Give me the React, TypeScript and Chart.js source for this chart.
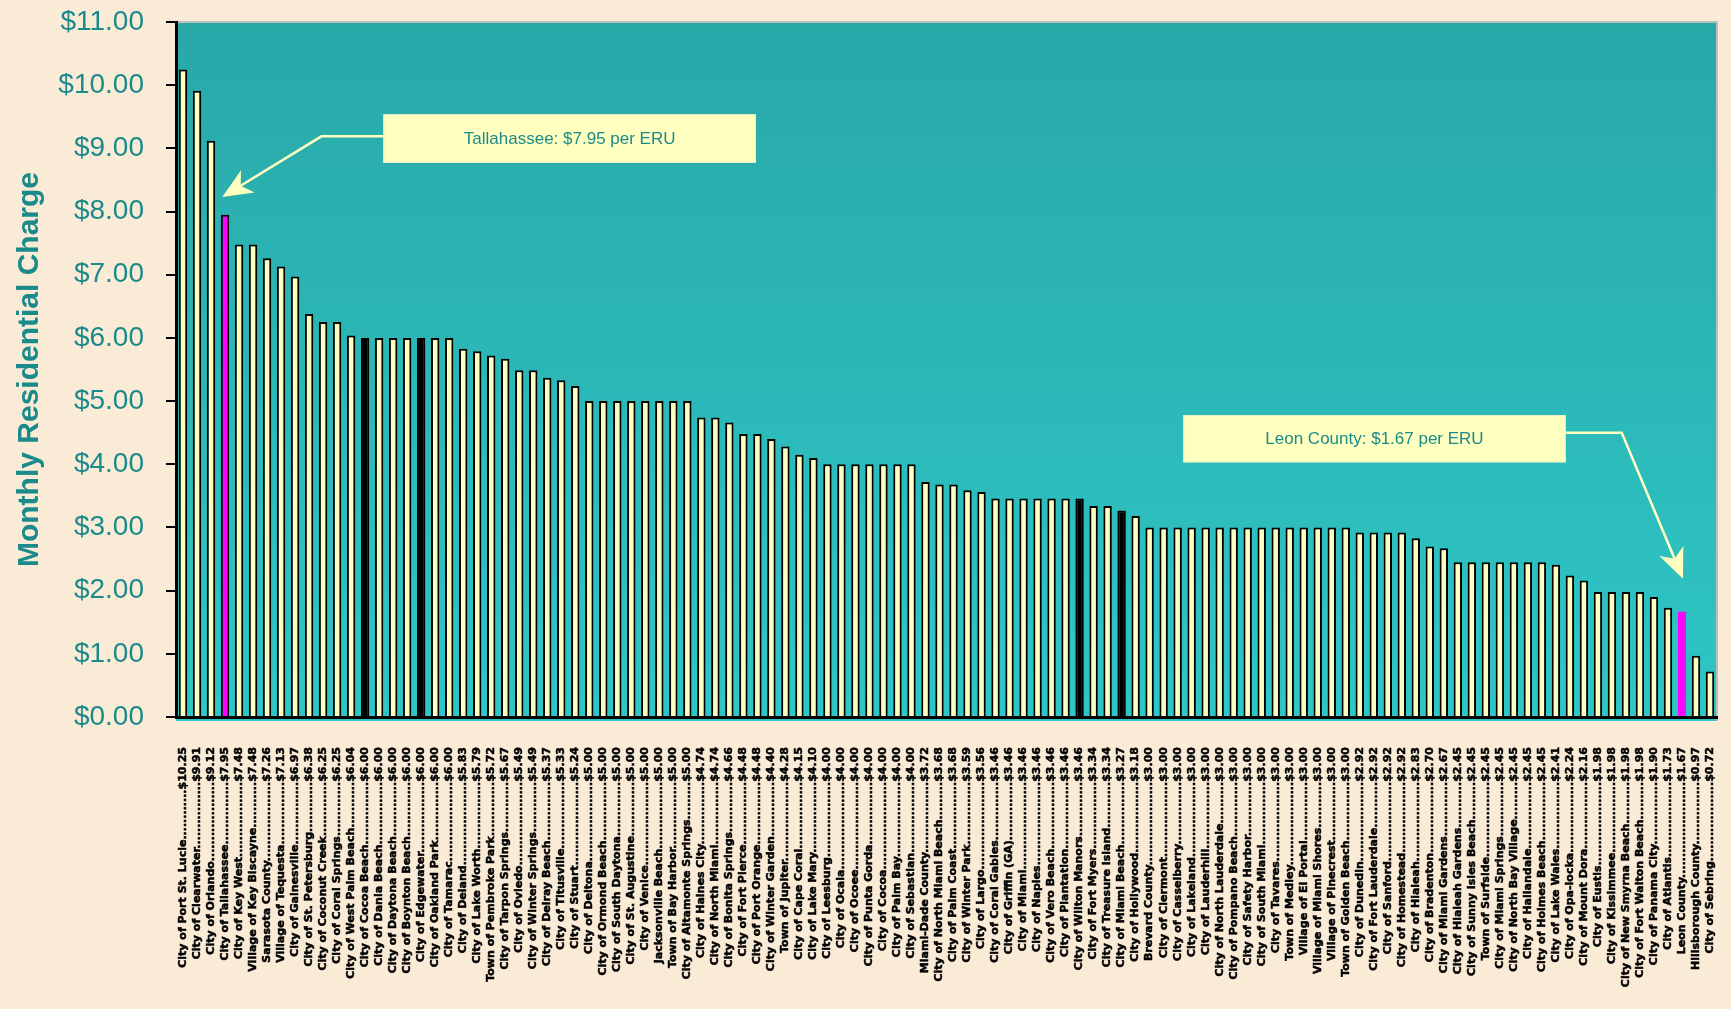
import React, { useEffect, useRef } from "react";
import { Chart, registerables } from "chart.js";

Chart.register(...registerables);

const cities: string[] = [
  "City of Port St. Lucie", "City of Clearwater", "City of Orlando", "City of Tallahassee",
  "City of Key West", "Village of Key Biscayne", "Sarasota County", "Village of Tequesta",
  "City of Gainesville", "City of St. Petersburg", "City of Coconut Creek", "City of Coral Springs",
  "City of West Palm Beach", "City of Cocoa Beach", "City of Dania Beach", "City of Daytona Beach",
  "City of Boynton Beach", "City of Edgewater", "City of Oakland Park", "City of Tamarac",
  "City of Deland", "City of Lake Worth", "Town of Pembroke Park", "City of Tarpon Springs",
  "City of Oviedo", "City of Winter Springs", "City of Delray Beach", "City of Titusville",
  "City of Stuart", "City of Deltona", "City of Ormond Beach", "City of South Daytona",
  "City of St. Augustine", "City of Venice", "Jacksonville Beach", "Town of Bay Harbor",
  "City of Altamonte Springs", "City of Haines City", "City of North Miami", "City of Bonita Springs",
  "City of Fort Pierce", "City of Port Orange", "City of Winter Garden", "Town of Jupiter",
  "City of Cape Coral", "City of Lake Mary", "City of Leesburg", "City of Ocala",
  "City of Ocoee", "City of Punta Gorda", "City of Cocoa", "City of Palm Bay",
  "City of Sebastian", "Miami-Dade County", "City of North Miami Beach", "City of Palm Coast",
  "City of Winter Park", "City of Largo", "City of Coral Gables", "City of Griffin (GA)",
  "City of Miami", "City of Naples", "City of Vero Beach", "City of Plantation",
  "City of Wilton Manors", "City of Fort Myers", "City of Treasure Island", "City of Miami Beach",
  "City of Hollywood", "Brevard County", "City of Clermont", "City of Casselberry",
  "City of Lakeland", "City of Lauderhill", "City of North Lauderdale", "City of Pompano Beach",
  "City of Safety Harbor", "City of South Miami", "City of Tavares", "Town of Medley",
  "Village of El Portal", "Village of Miami Shores", "Village of Pinecrest", "Town of Golden Beach",
  "City of Dunedin", "City of Fort Lauderdale", "City of Sanford", "City of Homestead",
  "City of Hialeah", "City of Bradenton", "City of Miami Gardens", "City of Hialeah Gardens",
  "City of Sunny Isles Beach", "Town of Surfside", "City of Miami Springs", "City of North Bay Village",
  "City of Hallandale", "City of Holmes Beach", "City of Lake Wales", "City of Opa-locka",
  "City of Mount Dora", "City of Eustis", "City of Kissimmee", "City of New Smyrna Beach",
  "City of Fort Walton Beach", "City of Panama City", "City of Atlantis", "Leon County",
  "Hillsborough County", "City of Sebring",
];

const charges: number[] = [
  10.25, 9.91, 9.12, 7.95, 7.48, 7.48, 7.26, 7.13, 6.97, 6.38,
  6.25, 6.25, 6.04, 6.0, 6.0, 6.0, 6.0, 6.0, 6.0, 6.0,
  5.83, 5.79, 5.72, 5.67, 5.49, 5.49, 5.37, 5.33, 5.24, 5.0,
  5.0, 5.0, 5.0, 5.0, 5.0, 5.0, 5.0, 4.74, 4.74, 4.66,
  4.48, 4.48, 4.4, 4.28, 4.15, 4.1, 4.0, 4.0, 4.0, 4.0,
  4.0, 4.0, 4.0, 3.72, 3.68, 3.68, 3.59, 3.56, 3.46, 3.46,
  3.46, 3.46, 3.46, 3.46, 3.46, 3.34, 3.34, 3.27, 3.18, 3.0,
  3.0, 3.0, 3.0, 3.0, 3.0, 3.0, 3.0, 3.0, 3.0, 3.0,
  3.0, 3.0, 3.0, 3.0, 2.92, 2.92, 2.92, 2.92, 2.83, 2.7,
  2.67, 2.45, 2.45, 2.45, 2.45, 2.45, 2.45, 2.45, 2.41, 2.24,
  2.16, 1.98, 1.98, 1.98, 1.98, 1.9, 1.73, 1.67, 0.97, 0.72,
];

const highlighted: string[] = ["City of Tallahassee", "Leon County"];
const darkBarIdx: number[] = [13, 17, 64, 67];

const yTickValues: number[] = [0, 1, 2, 3, 4, 5, 6, 7, 8, 9, 10, 11];
const yTickLabels: string[] = yTickValues.map((v) => "$" + v.toFixed(2));

const xLabels: string[] = cities.map(
  (c, i) => c + ".".repeat(Math.max(3, 34 - c.length)) + "$" + charges[i].toFixed(2)
);

const TEAL_TEXT = "#1A8A8A";
const CREAM = "#FFFFC0";

const callouts = [
  {
    text: "Tallahassee: $7.95 per ERU",
    box: [14.3, 40.9, 9.54, 8.77],
    path: [[14.3, 9.19], [9.88, 9.19], [2.8, 8.23]],
  },
  {
    text: "Leon County: $1.67 per ERU",
    box: [71.4, 98.7, 4.78, 4.03],
    path: [[98.7, 4.5], [102.7, 4.5], [107.07, 2.19]],
  },
];

const backgroundPlugin = {
  id: "bgPlugin",
  beforeDraw(chart: any) {
    const { ctx, chartArea } = chart;
    ctx.save();
    ctx.fillStyle = "#FAEBD7";
    ctx.fillRect(0, 0, chart.width, chart.height);
    const g = ctx.createLinearGradient(0, chartArea.top, 0, chartArea.bottom);
    g.addColorStop(0, "#29A8A8");
    g.addColorStop(1, "#2FC6C6");
    ctx.fillStyle = g;
    ctx.fillRect(chartArea.left, chartArea.top, chartArea.right - chartArea.left, chartArea.bottom - chartArea.top + 4);
    ctx.strokeStyle = "#BDBDBD";
    ctx.lineWidth = 2;
    ctx.beginPath();
    ctx.moveTo(chartArea.left, chartArea.top);
    ctx.lineTo(chartArea.right, chartArea.top);
    ctx.lineTo(chartArea.right, chartArea.bottom + 4);
    ctx.stroke();
    ctx.restore();
  },
};

const calloutPlugin = {
  id: "calloutPlugin",
  afterDatasetsDraw(chart: any) {
    const { ctx } = chart;
    const xs = chart.scales.x;
    const ys = chart.scales.y;
    const px = (i: number) => xs.getPixelForValue(i);
    const py = (v: number) => ys.getPixelForValue(v);
    ctx.save();
    callouts.forEach((c) => {
      const pts = c.path.map((p) => [px(p[0]), py(p[1])]);
      const T = pts[pts.length - 1];
      const P = pts[pts.length - 2];
      let dx = T[0] - P[0];
      let dy = T[1] - P[1];
      const len = Math.hypot(dx, dy);
      dx /= len;
      dy /= len;
      const L = 30;
      const W = 13;
      const notch = [T[0] - dx * L * 0.72, T[1] - dy * L * 0.72];
      ctx.strokeStyle = CREAM;
      ctx.lineWidth = 2.5;
      ctx.beginPath();
      ctx.moveTo(pts[0][0], pts[0][1]);
      for (let k = 1; k < pts.length - 1; k++) ctx.lineTo(pts[k][0], pts[k][1]);
      ctx.lineTo(notch[0], notch[1]);
      ctx.stroke();
      const bx = T[0] - dx * L;
      const by = T[1] - dy * L;
      const nx = -dy;
      const ny = dx;
      ctx.fillStyle = CREAM;
      ctx.beginPath();
      ctx.moveTo(T[0], T[1]);
      ctx.lineTo(bx + nx * W, by + ny * W);
      ctx.lineTo(notch[0], notch[1]);
      ctx.lineTo(bx - nx * W, by - ny * W);
      ctx.closePath();
      ctx.fill();

      const x0 = px(c.box[0]);
      const x1 = px(c.box[1]);
      const y0 = py(c.box[2]);
      const y1 = py(c.box[3]);
      ctx.fillStyle = CREAM;
      ctx.fillRect(x0, y0, x1 - x0, y1 - y0);
      ctx.strokeStyle = "#E8F0C8";
      ctx.lineWidth = 1;
      ctx.strokeRect(x0 + 0.5, y0 + 0.5, x1 - x0 - 1, y1 - y0 - 1);
      ctx.fillStyle = TEAL_TEXT;
      ctx.font = "17px 'Liberation Sans', Arial, sans-serif";
      ctx.textAlign = "center";
      ctx.textBaseline = "middle";
      ctx.fillText(c.text, (x0 + x1) / 2, (y0 + y1) / 2 + 1);
    });
    ctx.restore();
  },
};

export default function App() {
  const canvasRef = useRef<HTMLCanvasElement | null>(null);

  useEffect(() => {
    if (!canvasRef.current) return;
    const bg = cities.map((c, i) =>
      highlighted.includes(c) ? "#FF00FF" : darkBarIdx.includes(i) ? "#000000" : "#FFFFC0"
    );
    const bc = cities.map((c) => (c === "Leon County" ? "#FF00FF" : "#000000"));
    const chart = new Chart(canvasRef.current, {
      type: "bar",
      data: {
        labels: xLabels,
        datasets: [
          {
            label: "Monthly Residential Charge",
            data: charges,
            backgroundColor: bg,
            borderColor: bc,
            borderWidth: 2,
            barPercentage: 0.6,
            categoryPercentage: 1.0,
          },
        ],
      },
      options: {
        responsive: false,
        animation: false,
        layout: { padding: { top: 22, right: 14, left: 0, bottom: 0 } },
        plugins: {
          legend: { display: false },
          tooltip: { enabled: false },
          title: { display: false },
        },
        scales: {
          x: {
            offset: true,
            grid: { display: false },
            border: { display: true, color: "#000000", width: 3, z: 1 },
            afterFit: (scale: any) => {
              scale.height = 292;
              scale.paddingLeft = 0;
              scale.paddingRight = 0;
            },
            ticks: {
              autoSkip: false,
              maxRotation: 90,
              minRotation: 90,
              padding: 22,
              color: "#000000",
              textStrokeColor: "#000000",
              textStrokeWidth: 0.5,
              font: { family: "'DejaVu Sans', sans-serif", size: 11, weight: "bold" },
            },
          },
          y: {
            min: 0,
            max: 11,
            afterFit: (scale: any) => {
              scale.width = 176;
              scale.paddingTop = 0;
              scale.paddingBottom = 0;
            },
            afterBuildTicks: (scale: any) => {
              scale.ticks = yTickValues.map((v) => ({ value: v }));
            },
            grid: {
              display: true,
              drawOnChartArea: false,
              drawTicks: true,
              tickLength: 10,
              color: "#000000",
              lineWidth: 2,
            },
            border: { display: true, color: "#000000", width: 3, z: 1 },
            ticks: {
              padding: 22,
              color: TEAL_TEXT,
              font: { family: "'Liberation Sans', Arial, sans-serif", size: 28 },
              callback: (_v: any, idx: number) => yTickLabels[idx],
            },
            title: {
              display: true,
              text: "Monthly Residential Charge",
              color: TEAL_TEXT,
              padding: { top: 12, bottom: 0 },
              font: { family: "'Liberation Sans', Arial, sans-serif", size: 30, weight: "bold" },
            },
          },
        },
      },
      plugins: [backgroundPlugin, calloutPlugin],
    });
    return () => chart.destroy();
  }, []);

  return (
    <div
      style={{
        position: "fixed",
        left: 0,
        top: 0,
        width: 1731,
        height: 1009,
        background: "#FAEBD7",
      }}
    >
      <canvas ref={canvasRef} width={1731} height={1009} style={{ display: "block" }} />
    </div>
  );
}
